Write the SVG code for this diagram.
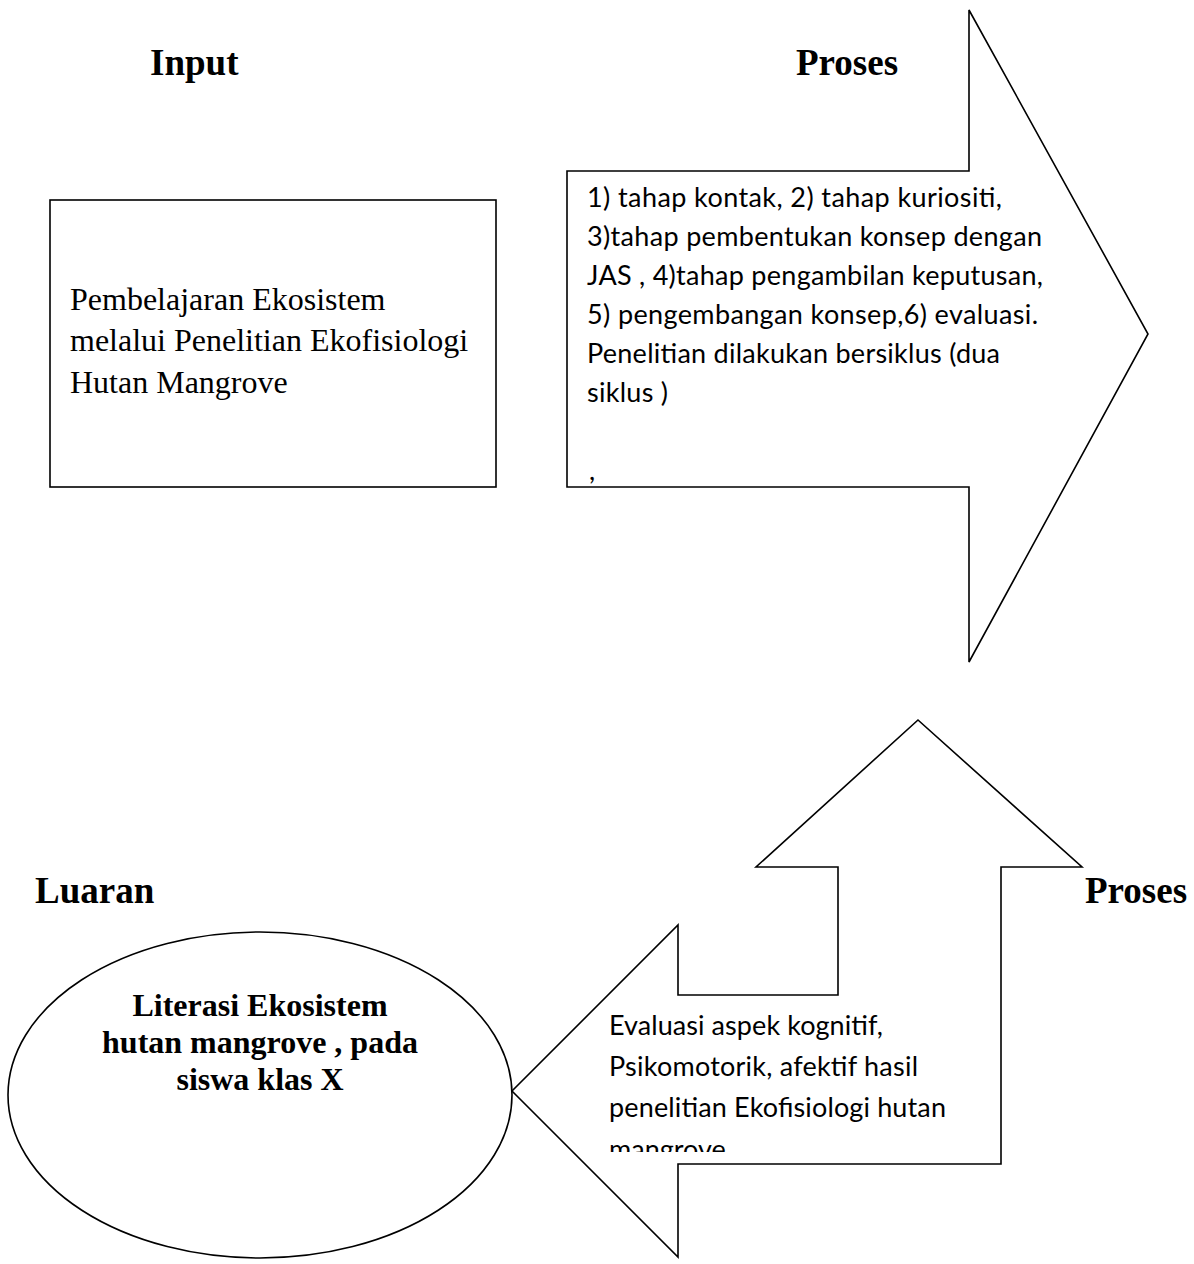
<svg xmlns="http://www.w3.org/2000/svg" width="1194" height="1264" viewBox="0 0 1194 1264">
<style>
.shape{fill:#fff;stroke:#000;stroke-width:1.6;stroke-linejoin:miter}
.head{font-family:"Liberation Serif","Times New Roman",serif;font-weight:bold;font-size:37px;fill:#000}
.serif{font-family:"Liberation Serif","Times New Roman",serif;font-size:32px;fill:#000}
.bserif{font-family:"Liberation Serif","Times New Roman",serif;font-weight:bold;font-size:32px;fill:#000;text-anchor:middle}
.sans{font-family:Lato,"Liberation Sans",sans-serif;font-size:27px;fill:#000}
</style>
<defs>
<clipPath id="clipEval"><rect x="600" y="996" width="400" height="156"/></clipPath>
</defs>
<rect width="1194" height="1264" fill="#fff"/>
<g id="labels">
<text class="head" x="150" y="75">Input</text>
<text class="head" x="796" y="75">Proses</text>
<text class="head" x="35" y="903">Luaran</text>
<text class="head" x="1085" y="903">Proses</text>
</g>
<g id="connectors">
<polygon id="arrow-right" class="shape" points="969,10 1148,334 969,662 969,487 567,487 567,171 969,171"/>
<polygon id="arrow-up-left" class="shape" points="918,720 1082,867 1001,867 1001,1164 678,1164 678,1257 512,1091 678,925 678,995 838,995 838,867 756,867"/>
</g>
<g id="node-input">
<rect class="shape" x="50" y="200" width="446" height="287"/>
<text class="serif" x="70" y="310">Pembelajaran Ekosistem</text>
<text class="serif" x="70" y="351">melalui Penelitian Ekofisiologi</text>
<text class="serif" x="70" y="393">Hutan Mangrove</text>
</g>
<g id="node-proses1">
<text class="sans" x="587" y="207" textLength="415">1) tahap kontak, 2) tahap kuriositi,</text>
<text class="sans" x="587" y="246" textLength="455">3)tahap pembentukan konsep dengan</text>
<text class="sans" x="587" y="285" textLength="456">JAS , 4)tahap pengambilan keputusan,</text>
<text class="sans" x="587" y="324" textLength="451">5) pengembangan konsep,6) evaluasi.</text>
<text class="sans" x="587" y="363" textLength="413">Penelitian dilakukan bersiklus (dua</text>
<text class="sans" x="587" y="402" textLength="81">siklus )</text>
<text class="sans" x="589" y="480">,</text>
</g>
<g id="node-proses2" clip-path="url(#clipEval)">
<text class="sans" x="609" y="1035" textLength="274">Evaluasi aspek kognitif,</text>
<text class="sans" x="609" y="1076" textLength="309">Psikomotorik, afektif hasil</text>
<text class="sans" x="609" y="1117" textLength="337">penelitian Ekofisiologi hutan</text>
<text class="sans" x="609" y="1159">mangrove</text>
</g>
<g id="node-luaran">
<ellipse class="shape" cx="260" cy="1095" rx="252" ry="163"/>
<text class="bserif" x="260" y="1016">Literasi Ekosistem</text>
<text class="bserif" x="260" y="1053">hutan mangrove , pada</text>
<text class="bserif" x="260" y="1090">siswa klas X</text>
</g>
</svg>
